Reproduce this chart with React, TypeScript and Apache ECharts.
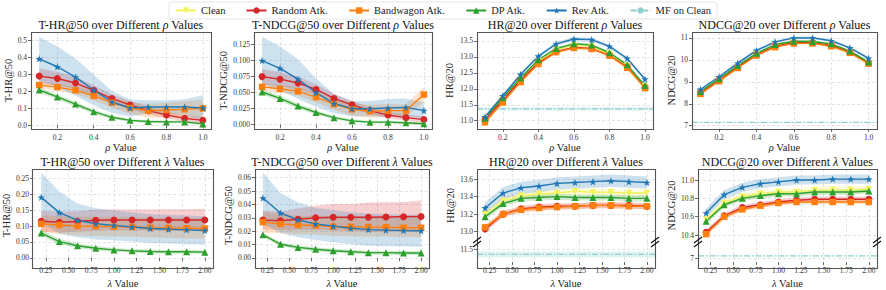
import React, { useEffect, useRef } from "react";
import * as echarts from "echarts";

// ---------- x values & ticks ----------
const rhoValues = [0.1, 0.2, 0.3, 0.4, 0.5, 0.6, 0.7, 0.8, 0.9, 1.0];
const lambdaValues = [0.2, 0.4, 0.6, 0.8, 1.0, 1.2, 1.4, 1.6, 1.8, 2.0];
const rhoTicks = [0.2, 0.4, 0.6, 0.8, 1.0];
const lambdaTicks = [0.25, 0.5, 0.75, 1.0, 1.25, 1.5, 1.75, 2.0];

// ---------- T-HR@50 vs rho ----------
const thrRhoRandom = [0.29, 0.276, 0.249, 0.206, 0.157, 0.12, 0.086, 0.061, 0.041, 0.029];
const thrRhoRandomStd = [0.045, 0.04, 0.035, 0.03, 0.025, 0.025, 0.022, 0.02, 0.02, 0.02];
const thrRhoBand = [0.237, 0.225, 0.206, 0.173, 0.133, 0.102, 0.086, 0.09, 0.094, 0.1];
const thrRhoBandStd = [0.02, 0.02, 0.022, 0.025, 0.03, 0.035, 0.04, 0.045, 0.048, 0.05];
const thrRhoDP = [0.208, 0.167, 0.125, 0.08, 0.047, 0.029, 0.022, 0.02, 0.02, 0.008];
const thrRhoDPStd = [0.015, 0.015, 0.014, 0.012, 0.01, 0.008, 0.008, 0.008, 0.008, 0.008];
const thrRhoRev = [0.392, 0.345, 0.284, 0.208, 0.137, 0.102, 0.108, 0.108, 0.108, 0.102];
const thrRhoRevStd = [0.13, 0.12, 0.11, 0.09, 0.065, 0.05, 0.04, 0.04, 0.045, 0.075];
const thrRhoYTicks = [0, 0.1, 0.2, 0.3, 0.4, 0.5];

// ---------- T-NDCG@50 vs rho ----------
const tndRhoRandom = [0.075, 0.071, 0.065, 0.055, 0.041, 0.031, 0.022, 0.015, 0.011, 0.008];
const tndRhoRandomStd = [0.012, 0.011, 0.01, 0.008, 0.007, 0.006, 0.005, 0.005, 0.005, 0.005];
const tndRhoBand = [0.059, 0.056, 0.052, 0.043, 0.032, 0.024, 0.021, 0.022, 0.022, 0.047];
const tndRhoBandStd = [0.006, 0.006, 0.007, 0.008, 0.009, 0.01, 0.01, 0.01, 0.01, 0.012];
const tndRhoDP = [0.051, 0.041, 0.029, 0.019, 0.011, 0.006, 0.004, 0.004, 0.003, 0.0015];
const tndRhoDPStd = [0.004, 0.004, 0.004, 0.003, 0.002, 0.002, 0.002, 0.002, 0.002, 0.002];
const tndRhoRev = [0.1, 0.088, 0.071, 0.05, 0.033, 0.025, 0.025, 0.026, 0.027, 0.022];
const tndRhoRevStd = [0.037, 0.034, 0.031, 0.022, 0.015, 0.012, 0.012, 0.014, 0.014, 0.013];
const tndRhoYTicks = [0, 0.025, 0.05, 0.075, 0.1, 0.125];

// ---------- HR@20 vs rho ----------
const hrRhoClean = [11.06, 11.69, 12.31, 12.87, 13.22, 13.36, 13.33, 13.1, 12.72, 12.08];
const hrRhoCleanStd = [0.05, 0.05, 0.05, 0.05, 0.05, 0.05, 0.05, 0.05, 0.05, 0.05];
const hrRhoRandom = [11.03, 11.64, 12.27, 12.82, 13.16, 13.3, 13.26, 13.05, 12.68, 12.04];
const hrRhoRandomStd = [0.04, 0.04, 0.04, 0.04, 0.04, 0.04, 0.04, 0.04, 0.04, 0.04];
const hrRhoBand = [10.95, 11.57, 12.21, 12.78, 13.15, 13.28, 13.25, 13.04, 12.66, 12.02];
const hrRhoBandStd = [0.04, 0.04, 0.04, 0.04, 0.04, 0.04, 0.04, 0.04, 0.04, 0.04];
const hrRhoDP = [11.08, 11.72, 12.34, 12.91, 13.26, 13.41, 13.37, 13.13, 12.75, 12.1];
const hrRhoDPStd = [0.04, 0.04, 0.04, 0.04, 0.04, 0.04, 0.04, 0.04, 0.04, 0.04];
const hrRhoRev = [11.12, 11.78, 12.45, 13.02, 13.41, 13.56, 13.54, 13.33, 12.95, 12.3];
const hrRhoRevStd = [0.05, 0.05, 0.05, 0.05, 0.06, 0.06, 0.06, 0.05, 0.05, 0.05];
const hrRhoMF = 11.37;
const hrRhoMFStd = 0.05;
const hrRhoYTicks = [11.0, 11.5, 12.0, 12.5, 13.0, 13.5];

// ---------- NDCG@20 vs rho ----------
const ndRhoClean = [8.53, 9.11, 9.71, 10.27, 10.67, 10.82, 10.81, 10.7, 10.37, 9.87];
const ndRhoCleanStd = [0.05, 0.05, 0.05, 0.05, 0.05, 0.05, 0.05, 0.05, 0.05, 0.05];
const ndRhoRandom = [8.5, 9.07, 9.67, 10.23, 10.62, 10.78, 10.78, 10.66, 10.35, 9.86];
const ndRhoRandomStd = [0.05, 0.05, 0.05, 0.05, 0.05, 0.05, 0.05, 0.05, 0.05, 0.05];
const ndRhoBand = [8.45, 9.03, 9.63, 10.2, 10.58, 10.75, 10.75, 10.62, 10.32, 9.83];
const ndRhoBandStd = [0.05, 0.05, 0.05, 0.05, 0.05, 0.05, 0.05, 0.05, 0.05, 0.05];
const ndRhoDP = [8.56, 9.14, 9.74, 10.3, 10.7, 10.85, 10.84, 10.73, 10.4, 9.9];
const ndRhoDPStd = [0.05, 0.05, 0.05, 0.05, 0.05, 0.05, 0.05, 0.05, 0.05, 0.05];
const ndRhoRev = [8.65, 9.23, 9.85, 10.43, 10.82, 11.0, 11.0, 10.87, 10.55, 10.07];
const ndRhoRevStd = [0.06, 0.06, 0.06, 0.06, 0.06, 0.06, 0.06, 0.06, 0.06, 0.06];
const ndRhoMF = 7.15;
const ndRhoMFStd = 0.02;
const ndRhoYTicks = [7, 8, 9, 10, 11];

// ---------- T-HR@50 vs lambda ----------
const thrLamRandom = [0.115, 0.112, 0.114, 0.118, 0.119, 0.119, 0.119, 0.119, 0.119, 0.119];
const thrLamRandomStd = [0.033, 0.032, 0.032, 0.033, 0.033, 0.033, 0.033, 0.034, 0.034, 0.035];
const thrLamBand = [0.107, 0.103, 0.1, 0.099, 0.098, 0.097, 0.095, 0.094, 0.093, 0.092];
const thrLamBandStd = [0.025, 0.028, 0.03, 0.03, 0.031, 0.031, 0.031, 0.032, 0.032, 0.032];
const thrLamDP = [0.078, 0.051, 0.038, 0.03, 0.025, 0.022, 0.02, 0.019, 0.019, 0.018];
const thrLamDPStd = [0.01, 0.008, 0.007, 0.007, 0.006, 0.006, 0.006, 0.006, 0.006, 0.006];
const thrLamRev = [0.19, 0.142, 0.118, 0.107, 0.102, 0.097, 0.092, 0.09, 0.088, 0.086];
const thrLamRevStd = [0.078, 0.066, 0.053, 0.049, 0.047, 0.046, 0.045, 0.045, 0.045, 0.045];
const thrLamYTicks = [0, 0.05, 0.1, 0.15, 0.2, 0.25];

// ---------- T-NDCG@50 vs lambda ----------
const tndLamRandom = [0.0283, 0.0278, 0.029, 0.0301, 0.0304, 0.0304, 0.0304, 0.0306, 0.0308, 0.031];
const tndLamRandomStd = [0.007, 0.007, 0.008, 0.009, 0.01, 0.01, 0.011, 0.011, 0.011, 0.012];
const tndLamBand = [0.0268, 0.0254, 0.0247, 0.0243, 0.0236, 0.0233, 0.0231, 0.023, 0.0226, 0.0226];
const tndLamBandStd = [0.008, 0.007, 0.007, 0.007, 0.007, 0.007, 0.007, 0.007, 0.007, 0.007];
const tndLamDP = [0.0173, 0.0103, 0.0079, 0.0065, 0.0054, 0.0047, 0.004, 0.004, 0.0037, 0.0037];
const tndLamDPStd = [0.0015, 0.0015, 0.0015, 0.0015, 0.0015, 0.0015, 0.0015, 0.0015, 0.0015, 0.0015];
const tndLamRev = [0.0448, 0.0336, 0.0285, 0.0254, 0.0238, 0.0222, 0.0212, 0.0208, 0.0205, 0.0203];
const tndLamRevStd = [0.019, 0.015, 0.013, 0.012, 0.012, 0.012, 0.012, 0.012, 0.012, 0.012];
const tndLamYTicks = [0, 0.01, 0.02, 0.03, 0.04, 0.05, 0.06];

// ---------- HR@20 vs lambda (broken axis) ----------
const hrLamClean = [13.2, 13.35, 13.41, 13.43, 13.44, 13.46, 13.45, 13.45, 13.44, 13.44];
const hrLamCleanStd = [0.04, 0.04, 0.04, 0.04, 0.04, 0.04, 0.04, 0.04, 0.04, 0.04];
const hrLamRandom = [13.03, 13.2, 13.26, 13.28, 13.29, 13.29, 13.3, 13.3, 13.3, 13.29];
const hrLamRandomStd = [0.04, 0.035, 0.035, 0.035, 0.035, 0.035, 0.035, 0.035, 0.035, 0.035];
const hrLamBand = [13.05, 13.2, 13.25, 13.27, 13.28, 13.29, 13.3, 13.3, 13.29, 13.29];
const hrLamBandStd = [0.03, 0.03, 0.03, 0.03, 0.03, 0.03, 0.03, 0.03, 0.03, 0.03];
const hrLamDP = [13.17, 13.32, 13.38, 13.39, 13.4, 13.39, 13.39, 13.39, 13.38, 13.38];
const hrLamDPStd = [0.035, 0.035, 0.035, 0.035, 0.035, 0.035, 0.035, 0.035, 0.035, 0.035];
const hrLamRev = [13.27, 13.44, 13.5, 13.52, 13.55, 13.56, 13.57, 13.58, 13.57, 13.56];
const hrLamRevStd = [0.065, 0.07, 0.07, 0.07, 0.07, 0.07, 0.07, 0.07, 0.07, 0.07];
const hrLamMF = 11.43;
const hrLamMFStd = 0.045;
const hrLamYTicks = [13.0, 13.2, 13.4, 13.6];
const hrLamLowerTicks = [11.5];

// ---------- NDCG@20 vs lambda (broken axis) ----------
const ndLamClean = [10.57, 10.75, 10.82, 10.85, 10.87, 10.87, 10.89, 10.89, 10.89, 10.9];
const ndLamCleanStd = [0.04, 0.04, 0.04, 0.04, 0.04, 0.04, 0.04, 0.04, 0.04, 0.04];
const ndLamRandom = [10.43, 10.61, 10.7, 10.73, 10.76, 10.78, 10.79, 10.79, 10.79, 10.79];
const ndLamRandomStd = [0.03, 0.03, 0.03, 0.03, 0.03, 0.03, 0.03, 0.03, 0.03, 0.03];
const ndLamBand = [10.41, 10.6, 10.68, 10.72, 10.75, 10.76, 10.76, 10.76, 10.76, 10.76];
const ndLamBandStd = [0.025, 0.025, 0.025, 0.025, 0.025, 0.025, 0.025, 0.025, 0.025, 0.025];
const ndLamDP = [10.55, 10.73, 10.8, 10.83, 10.85, 10.85, 10.87, 10.87, 10.87, 10.88];
const ndLamDPStd = [0.03, 0.03, 0.03, 0.03, 0.03, 0.03, 0.03, 0.03, 0.03, 0.03];
const ndLamRev = [10.64, 10.84, 10.92, 10.96, 10.98, 11.0, 11.0, 11.01, 11.01, 11.01];
const ndLamRevStd = [0.05, 0.05, 0.05, 0.05, 0.05, 0.05, 0.05, 0.05, 0.05, 0.05];
const ndLamMF = 7.15;
const ndLamMFStd = 0.02;
const ndLamYTicks = [10.4, 10.6, 10.8, 11.0];
const ndLamLowerTicks = [7];

// ---------- styles ----------
const FONT = "'Liberation Serif', 'DejaVu Serif', serif";
const STAR =
  "path://M50,0 L61.8,35.3 L98.5,35.3 L68.9,57.1 L80.3,92.4 L50,70.6 L19.7,92.4 L31.1,57.1 L1.5,35.3 L38.2,35.3 Z";
const SERIES_STYLE: Record<string, any> = {
  clean: { name: "Clean", color: "#f3f35c", symbol: "triangle", rotate: 180, size: 6.5 },
  random: { name: "Random Atk.", color: "#d62728", symbol: "circle", rotate: 0, size: 7 },
  band: { name: "Bandwagon Atk.", color: "#ff7f0e", symbol: "rect", rotate: 0, size: 6.5 },
  dp: { name: "DP Atk.", color: "#2ca02c", symbol: "triangle", rotate: 0, size: 7 },
  rev: { name: "Rev Atk.", color: "#1f77b4", symbol: STAR, rotate: 0, size: 7.5 },
};
const MF_NAME = "MF on Clean";
const MF_COLOR = "#8fd0d0";

type Line = { key: string; mean: number[]; std: number[] };
type Panel = {
  title: string;
  yName: string;
  xName: string;
  x: number[];
  xMin: number;
  xMax: number;
  xTicks: number[];
  xFmt: number;
  yMin: number;
  yMax: number;
  yTicks: number[];
  yFmt: number;
  lines: Line[];
  mf?: { value: number; std: number };
  lower?: { yMin: number; yMax: number; yTicks: number[]; yFmt: number };
  box: { left: number; top: number; width: number; height: number; upperH?: number; nameGap: number; xNameGap: number };
};

const rhoTitle = (m: string) => `${m} over Different {i|ρ} Values`;
const lamTitle = (m: string) => `${m} over Different {i|λ} Values`;

const panels: Panel[] = [
  {
    title: rhoTitle("T-HR@50"), yName: "T-HR@50", xName: "{i|ρ} Value",
    x: rhoValues, xMin: 0.055, xMax: 1.045, xTicks: rhoTicks, xFmt: 1,
    yMin: -0.022, yMax: 0.55, yTicks: thrRhoYTicks, yFmt: 1,
    lines: [
      { key: "random", mean: thrRhoRandom, std: thrRhoRandomStd },
      { key: "band", mean: thrRhoBand, std: thrRhoBandStd },
      { key: "dp", mean: thrRhoDP, std: thrRhoDPStd },
      { key: "rev", mean: thrRhoRev, std: thrRhoRevStd },
    ],
    box: { left: 31, top: 32, width: 180, height: 97, nameGap: 16, xNameGap: 12 },
  },
  {
    title: rhoTitle("T-NDCG@50"), yName: "T-NDCG@50", xName: "{i|ρ} Value",
    x: rhoValues, xMin: 0.055, xMax: 1.045, xTicks: rhoTicks, xFmt: 1,
    yMin: -0.0067, yMax: 0.1446, yTicks: tndRhoYTicks, yFmt: 3,
    lines: [
      { key: "random", mean: tndRhoRandom, std: tndRhoRandomStd },
      { key: "band", mean: tndRhoBand, std: tndRhoBandStd },
      { key: "dp", mean: tndRhoDP, std: tndRhoDPStd },
      { key: "rev", mean: tndRhoRev, std: tndRhoRevStd },
    ],
    box: { left: 254, top: 32, width: 178, height: 97, nameGap: 21, xNameGap: 12 },
  },
  {
    title: rhoTitle("HR@20"), yName: "HR@20", xName: "{i|ρ} Value",
    x: rhoValues, xMin: 0.055, xMax: 1.045, xTicks: rhoTicks, xFmt: 1,
    yMin: 10.74, yMax: 13.78, yTicks: hrRhoYTicks, yFmt: 1,
    lines: [
      { key: "clean", mean: hrRhoClean, std: hrRhoCleanStd },
      { key: "random", mean: hrRhoRandom, std: hrRhoRandomStd },
      { key: "band", mean: hrRhoBand, std: hrRhoBandStd },
      { key: "dp", mean: hrRhoDP, std: hrRhoDPStd },
      { key: "rev", mean: hrRhoRev, std: hrRhoRevStd },
    ],
    mf: { value: hrRhoMF, std: hrRhoMFStd },
    box: { left: 477, top: 32, width: 176, height: 97, nameGap: 22, xNameGap: 12 },
  },
  {
    title: rhoTitle("NDCG@20"), yName: "NDCG@20", xName: "{i|ρ} Value",
    x: rhoValues, xMin: 0.055, xMax: 1.045, xTicks: rhoTicks, xFmt: 1,
    yMin: 6.85, yMax: 11.27, yTicks: ndRhoYTicks, yFmt: 0,
    lines: [
      { key: "clean", mean: ndRhoClean, std: ndRhoCleanStd },
      { key: "random", mean: ndRhoRandom, std: ndRhoRandomStd },
      { key: "band", mean: ndRhoBand, std: ndRhoBandStd },
      { key: "dp", mean: ndRhoDP, std: ndRhoDPStd },
      { key: "rev", mean: ndRhoRev, std: ndRhoRevStd },
    ],
    mf: { value: ndRhoMF, std: ndRhoMFStd },
    box: { left: 692, top: 32, width: 185, height: 97, nameGap: 12, xNameGap: 12 },
  },
  {
    title: lamTitle("T-HR@50"), yName: "T-HR@50", xName: "{i|λ} Value",
    x: lambdaValues, xMin: 0.11, xMax: 2.09, xTicks: lambdaTicks, xFmt: 2,
    yMin: -0.013, yMax: 0.279, yTicks: thrLamYTicks, yFmt: 2,
    lines: [
      { key: "random", mean: thrLamRandom, std: thrLamRandomStd },
      { key: "band", mean: thrLamBand, std: thrLamBandStd },
      { key: "dp", mean: thrLamDP, std: thrLamDPStd },
      { key: "rev", mean: thrLamRev, std: thrLamRevStd },
    ],
    box: { left: 32, top: 169, width: 181, height: 99, nameGap: 17, xNameGap: 16 },
  },
  {
    title: lamTitle("T-NDCG@50"), yName: "T-NDCG@50", xName: "{i|λ} Value",
    x: lambdaValues, xMin: 0.11, xMax: 2.09, xTicks: lambdaTicks, xFmt: 2,
    yMin: -0.003, yMax: 0.0665, yTicks: tndLamYTicks, yFmt: 2,
    lines: [
      { key: "random", mean: tndLamRandom, std: tndLamRandomStd },
      { key: "band", mean: tndLamBand, std: tndLamBandStd },
      { key: "dp", mean: tndLamDP, std: tndLamDPStd },
      { key: "rev", mean: tndLamRev, std: tndLamRevStd },
    ],
    box: { left: 255, top: 169, width: 174, height: 99, nameGap: 21, xNameGap: 16 },
  },
  {
    title: lamTitle("HR@20"), yName: "HR@20", xName: "{i|λ} Value",
    x: lambdaValues, xMin: 0.11, xMax: 2.09, xTicks: lambdaTicks, xFmt: 2,
    yMin: 12.883, yMax: 13.714, yTicks: hrLamYTicks, yFmt: 1,
    lines: [
      { key: "clean", mean: hrLamClean, std: hrLamCleanStd },
      { key: "random", mean: hrLamRandom, std: hrLamRandomStd },
      { key: "band", mean: hrLamBand, std: hrLamBandStd },
      { key: "dp", mean: hrLamDP, std: hrLamDPStd },
      { key: "rev", mean: hrLamRev, std: hrLamRevStd },
    ],
    mf: { value: hrLamMF, std: hrLamMFStd },
    lower: { yMin: 11.318, yMax: 11.614, yTicks: hrLamLowerTicks, yFmt: 1 },
    box: { left: 477, top: 169, width: 178, height: 99, upperH: 73, nameGap: 20, xNameGap: 16 },
  },
  {
    title: lamTitle("NDCG@20"), yName: "NDCG@20", xName: "{i|λ} Value",
    x: lambdaValues, xMin: 0.11, xMax: 2.09, xTicks: lambdaTicks, xFmt: 2,
    yMin: 10.324, yMax: 11.12, yTicks: ndLamYTicks, yFmt: 1,
    lines: [
      { key: "clean", mean: ndLamClean, std: ndLamCleanStd },
      { key: "random", mean: ndLamRandom, std: ndLamRandomStd },
      { key: "band", mean: ndLamBand, std: ndLamBandStd },
      { key: "dp", mean: ndLamDP, std: ndLamDPStd },
      { key: "rev", mean: ndLamRev, std: ndLamRevStd },
    ],
    mf: { value: ndLamMF, std: ndLamMFStd },
    lower: { yMin: 6.75, yMax: 8.05, yTicks: ndLamLowerTicks, yFmt: 0 },
    box: { left: 698, top: 169, width: 179, height: 99, upperH: 73, nameGap: 18, xNameGap: 16 },
  },
];

const rgba = (hex: string, a: number) => {
  const n = parseInt(hex.slice(1), 16);
  return `rgba(${(n >> 16) & 255},${(n >> 8) & 255},${n & 255},${a})`;
};

const splitLine = { show: true, lineStyle: { color: "#d8d8d8", type: [3, 2], width: 0.7 } };
const labelBase = { fontSize: 7.5, color: "#333", fontFamily: FONT };
const nameStyle = {
  fontSize: 10.5, color: "#222", fontFamily: FONT,
  rich: { i: { fontStyle: "italic", fontSize: 10.5, fontFamily: FONT, color: "#222" } },
};

function buildOption() {
  const grid: any[] = [];
  const xAxis: any[] = [];
  const yAxis: any[] = [];
  const series: any[] = [];
  const graphic: any[] = [];

  const addAxes = (
    p: Panel, left: number, top: number, width: number, height: number,
    showX: boolean, yMin: number, yMax: number, yTicks: number[], yFmt: number, yName: string
  ) => {
    const gi = grid.length;
    grid.push({ left, top, width, height, containLabel: false });
    xAxis.push({
      type: "value", gridIndex: gi, min: p.xMin, max: p.xMax,
      axisLine: { show: false },
      axisTick: { show: showX, customValues: p.xTicks, length: 3, lineStyle: { color: "#444", width: 0.8 } },
      axisLabel: { show: showX, customValues: p.xTicks, ...labelBase, margin: 4, formatter: (v: number) => v.toFixed(p.xFmt) },
      splitLine,
      name: showX ? p.xName : "", nameLocation: "middle", nameGap: p.box.xNameGap, nameTextStyle: nameStyle,
    });
    yAxis.push({
      type: "value", gridIndex: gi, min: yMin, max: yMax,
      axisLine: { show: false },
      axisTick: { show: true, customValues: yTicks, length: 3, lineStyle: { color: "#444", width: 0.8 } },
      axisLabel: { customValues: yTicks, ...labelBase, margin: 4, formatter: (v: number) => v.toFixed(yFmt) },
      splitLine,
      name: yName, nameLocation: "middle", nameGap: p.box.nameGap, nameTextStyle: nameStyle,
    });
    return gi;
  };

  const addLines = (p: Panel, gi: number) => {
    // shaded std bands (custom polygons placed through the axes' own scales)
    p.lines.forEach((ln) => {
      const st = SERIES_STYLE[ln.key];
      const xs = p.x;
      const lo = xs.map((_, i) => ln.mean[i] - ln.std[i]);
      const hi = xs.map((_, i) => ln.mean[i] + ln.std[i]);
      series.push({
        type: "custom", name: "_band_" + st.name, xAxisIndex: gi, yAxisIndex: gi,
        silent: true, z: 1, clip: true,
        data: xs.map((x, i) => [x, lo[i], hi[i]]),
        encode: { x: 0, y: [1, 2] },
        renderItem: (params: any, api: any) => {
          if (params.dataIndex !== 0) return null;
          const pts: number[][] = [];
          for (let i = 0; i < xs.length; i++) pts.push(api.coord([xs[i], hi[i]]));
          for (let i = xs.length - 1; i >= 0; i--) pts.push(api.coord([xs[i], lo[i]]));
          const cs = params.coordSys;
          return {
            type: "polygon",
            shape: { points: pts },
            style: { fill: rgba(st.color, 0.22), stroke: "none" },
            clipPath: { type: "rect", shape: { x: cs.x, y: cs.y, width: cs.width, height: cs.height } },
          };
        },
      });
    });
    p.lines.forEach((ln) => {
      const st = SERIES_STYLE[ln.key];
      series.push({
        type: "line", name: st.name, xAxisIndex: gi, yAxisIndex: gi,
        data: p.x.map((x, i) => [x, ln.mean[i]]),
        symbol: st.symbol, symbolSize: st.size, symbolRotate: st.rotate, showAllSymbol: true,
        lineStyle: { color: st.color, width: 1.4 }, itemStyle: { color: st.color },
        z: 3,
      });
    });
  };

  const addMF = (p: Panel, gi: number) => {
    if (!p.mf) return;
    series.push({
      type: "line", name: MF_NAME, xAxisIndex: gi, yAxisIndex: gi,
      data: [[p.xMin, p.mf.value], [p.xMax, p.mf.value]],
      symbol: "none", lineStyle: { color: MF_COLOR, width: 1.2, type: [6, 2, 1.5, 2] },
      itemStyle: { color: MF_COLOR }, z: 2,
      markArea: {
        silent: true, itemStyle: { color: rgba(MF_COLOR, 0.28) },
        data: [[{ yAxis: p.mf.value - p.mf.std }, { yAxis: p.mf.value + p.mf.std }]],
      },
    });
  };

  panels.forEach((p) => {
    const b = p.box;
    if (p.lower && b.upperH) {
      const giU = addAxes(p, b.left, b.top, b.width, b.upperH, false, p.yMin, p.yMax, p.yTicks, p.yFmt, p.yName);
      addLines(p, giU);
      const giL = addAxes(p, b.left, b.top + b.upperH, b.width, b.height - b.upperH, true,
        p.lower.yMin, p.lower.yMax, p.lower.yTicks, p.lower.yFmt, "");
      addMF(p, giL);
      const by = b.top + b.upperH;
      [b.left, b.left + b.width].forEach((cx) => {
        [-2, 2].forEach((dy) => {
          graphic.push({
            type: "line", silent: true, z: 110,
            shape: { x1: cx - 4, y1: by + dy + 3, x2: cx + 4, y2: by + dy - 3 },
            style: { stroke: "#111", lineWidth: 1.2 },
          });
        });
      });
    } else {
      const gi = addAxes(p, b.left, b.top, b.width, b.height, true, p.yMin, p.yMax, p.yTicks, p.yFmt, p.yName);
      addLines(p, gi);
      addMF(p, gi);
    }
    graphic.push({
      type: "rect", silent: true, z: 100,
      shape: { x: b.left + 0.5, y: b.top + 0.5, width: b.width, height: b.height },
      style: { fill: "none", stroke: "#555", lineWidth: 1.1 },
    });
    graphic.push({
      type: "text", silent: true, z: 100,
      x: b.left + b.width / 2, y: b.top - 7,
      style: {
        text: p.title, fontSize: 12, fontFamily: FONT, fill: "#111",
        align: "center", verticalAlign: "middle",
        rich: { i: { fontStyle: "italic", fontSize: 12, fontFamily: FONT, fill: "#111" } },
      },
    });
  });

  return {
    animation: false,
    textStyle: { fontFamily: FONT },
    legend: {
      data: ["Clean", "Random Atk.", "Bandwagon Atk.", "DP Atk.", "Rev Atk.", MF_NAME],
      top: 2, left: "center", itemGap: 20, itemWidth: 20, itemHeight: 8,
      selectedMode: false,
      textStyle: { fontSize: 10.5, fontFamily: FONT, color: "#222" },
      backgroundColor: "#fff", borderColor: "#e6e6e6", borderWidth: 1, borderRadius: 3, padding: [3, 6],
    },
    grid, xAxis, yAxis, series, graphic,
  };
}

export default function App() {
  const ref = useRef<HTMLDivElement>(null);
  useEffect(() => {
    if (!ref.current) return;
    const chart = echarts.init(ref.current, undefined, { renderer: "svg" });
    chart.setOption(buildOption() as any);
    return () => chart.dispose();
  }, []);
  return (
    <div
      ref={ref}
      style={{ position: "absolute", left: 0, top: 0, width: 886, height: 290, background: "#fff" }}
    />
  );
}
